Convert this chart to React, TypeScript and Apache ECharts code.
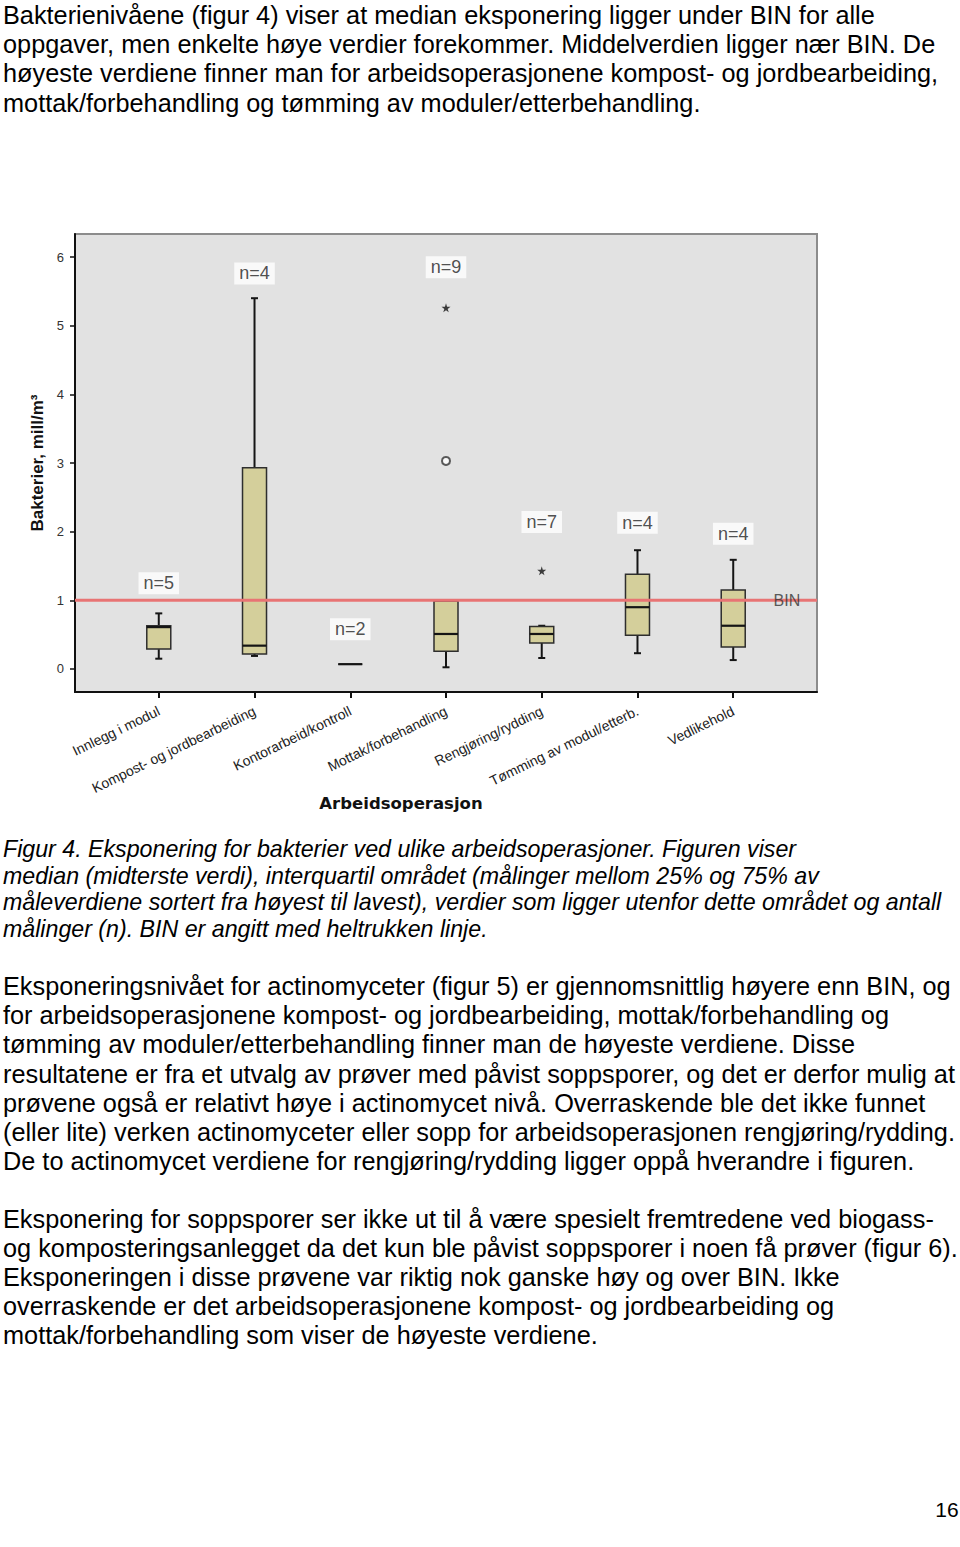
import React, { useEffect, useRef } from "react";
import * as echarts from "echarts";

// ---- chart data ----
const categories = [
  "Innlegg i modul",
  "Kompost- og jordbearbeiding",
  "Kontorarbeid/kontroll",
  "Mottak/forbehandling",
  "Rengjøring/rydding",
  "Tømming av modul/etterb.",
  "Vedlikehold",
];
const whiskerLow = [0.15, 0.19, 0.07, 0.025, 0.16, 0.23, 0.13];
const q1 = [0.29, 0.22, 0.07, 0.26, 0.38, 0.49, 0.32];
const median = [0.61, 0.34, 0.07, 0.51, 0.51, 0.9, 0.63];
const q3 = [0.63, 2.93, 0.07, 0.99, 0.62, 1.38, 1.15];
const whiskerHigh = [0.81, 5.4, 0.07, 0.99, 0.63, 1.73, 1.59];
const counts = [5, 4, 2, 9, 7, 4, 4];
const countLabelY = [1.25, 5.76, 0.58, 5.85, 2.14, 2.13, 1.97];
const outliers = [[3, 3.03]];
const extremes = [
  [3, 5.26],
  [4, 1.43],
];
const yTicks = [0, 1, 2, 3, 4, 5, 6];
const xTicks = [0, 1, 2, 3, 4, 5, 6];
const binValue = 1;

// ---- page text ----
const para1 = [
  "Bakterienivåene (figur 4) viser at median eksponering ligger under BIN for alle",
  "oppgaver, men enkelte høye verdier forekommer. Middelverdien ligger nær BIN. De",
  "høyeste verdiene finner man for arbeidsoperasjonene kompost- og jordbearbeiding,",
  "mottak/forbehandling og tømming av moduler/etterbehandling.",
];
const caption = [
  "Figur 4. Eksponering for bakterier ved ulike arbeidsoperasjoner. Figuren viser",
  "median (midterste verdi), interquartil området (målinger mellom 25% og 75% av",
  "måleverdiene sortert fra høyest til lavest), verdier som ligger utenfor dette området og antall",
  "målinger (n). BIN er angitt med heltrukken linje.",
];
const para2 = [
  "Eksponeringsnivået for actinomyceter (figur 5) er gjennomsnittlig høyere enn BIN, og",
  "for arbeidsoperasjonene kompost- og jordbearbeiding, mottak/forbehandling og",
  "tømming av moduler/etterbehandling finner man de høyeste verdiene. Disse",
  "resultatene er fra et utvalg av prøver med påvist soppsporer, og det er derfor mulig at",
  "prøvene også er relativt høye i actinomycet nivå. Overraskende ble det ikke funnet",
  "(eller lite) verken actinomyceter eller sopp for arbeidsoperasjonen rengjøring/rydding.",
  "De to actinomycet verdiene for rengjøring/rydding ligger oppå hverandre i figuren.",
];
const para3 = [
  "Eksponering for soppsporer ser ikke ut til å være spesielt fremtredene ved biogass-",
  "og komposteringsanlegget da det kun ble påvist soppsporer i noen få prøver (figur 6).",
  "Eksponeringen i disse prøvene var riktig nok ganske høy og over BIN. Ikke",
  "overraskende er det arbeidsoperasjonene kompost- og jordbearbeiding og",
  "mottak/forbehandling som viser de høyeste verdiene.",
];

const SANS = '"Liberation Sans", Arial, Helvetica, sans-serif';
const STAR =
  "path://M50,0 L61,35 L98,35 L68,57 L79,91 L50,70 L21,91 L32,57 L2,35 L39,35 Z";

function textBlock(lines: string[], y0: number, step: number, font: string) {
  return lines.map((t, k) => ({
    type: "text",
    x: 3,
    y: y0 + k * step,
    silent: true,
    style: { text: t, font, fill: "#000", textVerticalAlign: "middle" },
  }));
}

export default function App() {
  const ref = useRef<HTMLDivElement>(null);
  useEffect(() => {
    document.body.style.margin = "0";
    const chart = echarts.init(ref.current!, null, { renderer: "svg" });
    const bodyFont = `25.3px ${SANS}`;
    const capFont = `italic 23.2px ${SANS}`;
    const graphic: any[] = [
      ...textBlock(para1, 15, 29.2, bodyFont),
      ...textBlock(caption, 849, 26.7, capFont),
      ...textBlock(para2, 986, 29.17, bodyFont),
      ...textBlock(para3, 1219, 29.1, bodyFont),
      {
        type: "text",
        x: 947,
        y: 1509,
        silent: true,
        style: { text: "16", font: `21px ${SANS}`, fill: "#000", textAlign: "center", textVerticalAlign: "middle" },
      },
      {
        type: "text",
        x: 401,
        y: 803,
        silent: true,
        style: {
          text: "Arbeidsoperasjon",
          font: 'bold 16.5px "DejaVu Sans", Verdana, sans-serif',
          fill: "#111",
          textAlign: "center",
          textVerticalAlign: "middle",
        },
      },
    ];

    const boxData = categories.map((_, i) => [i, whiskerLow[i], q1[i], median[i], q3[i], whiskerHigh[i]]);

    chart.setOption({
      animation: false,
      grid: {
        left: 75,
        top: 234,
        width: 742,
        height: 458,
        show: true,
        backgroundColor: "#e2e2e2",
        borderColor: "#8c8c8c",
        borderWidth: 2,
      },
      xAxis: {
        type: "value",
        min: -0.875,
        max: 6.875,
        splitLine: { show: false },
        axisLine: { show: true, onZero: false, lineStyle: { color: "#111", width: 2 } },
        axisTick: { show: true, customValues: xTicks, length: 6, lineStyle: { color: "#111", width: 2 } },
        axisLabel: {
          customValues: xTicks,
          formatter: (v: number) => categories[Math.round(v)] ?? "",
          rotate: 26,
          margin: 18,
          fontSize: 14,
          fontFamily: SANS,
          color: "#222",
        },
      },
      yAxis: {
        type: "value",
        min: -0.335,
        max: 6.335,
        splitLine: { show: false },
        axisLine: { show: true, onZero: false, lineStyle: { color: "#111", width: 2 } },
        axisTick: { show: true, customValues: yTicks, length: 5, lineStyle: { color: "#111", width: 1.5 } },
        axisLabel: { customValues: yTicks, fontSize: 13, fontFamily: SANS, color: "#333", margin: 11 },
        name: "Bakterier, mill/m³",
        nameLocation: "middle",
        nameGap: 29,
        nameTextStyle: { fontSize: 17, fontWeight: "bold", fontFamily: SANS, color: "#111" },
      },
      graphic,
      series: [
        {
          type: "custom",
          data: boxData,
          encode: { x: 0, y: [1, 2, 3, 4, 5] },
          z: 2,
          renderItem: (params: any, api: any) => {
            const i = api.value(0);
            const pLow = api.coord([i, api.value(1)]);
            const pQ1 = api.coord([i, api.value(2)]);
            const pMed = api.coord([i, api.value(3)]);
            const pQ3 = api.coord([i, api.value(4)]);
            const pHigh = api.coord([i, api.value(5)]);
            const cx = pLow[0];
            const hw = 12;
            const cap = 3.5;
            const stroke = "#151515";
            const children: any[] = [];
            if (pHigh[1] < pQ3[1] - 0.5) {
              children.push({ type: "line", shape: { x1: cx, y1: pQ3[1], x2: cx, y2: pHigh[1] }, style: { stroke, lineWidth: 2 } });
              children.push({ type: "line", shape: { x1: cx - cap, y1: pHigh[1], x2: cx + cap, y2: pHigh[1] }, style: { stroke, lineWidth: 2 } });
            }
            if (pLow[1] > pQ1[1] + 0.5) {
              children.push({ type: "line", shape: { x1: cx, y1: pQ1[1], x2: cx, y2: pLow[1] }, style: { stroke, lineWidth: 2 } });
              children.push({ type: "line", shape: { x1: cx - cap, y1: pLow[1], x2: cx + cap, y2: pLow[1] }, style: { stroke, lineWidth: 2 } });
            }
            children.push({
              type: "rect",
              shape: { x: cx - hw, y: pQ3[1], width: hw * 2, height: pQ1[1] - pQ3[1] },
              style: { fill: "#d4cf9b", stroke: "#2e2e2e", lineWidth: 1.5 },
            });
            children.push({ type: "line", shape: { x1: cx - hw, y1: pMed[1], x2: cx + hw, y2: pMed[1] }, style: { stroke, lineWidth: 2.2 } });
            return { type: "group", children };
          },
        },
        {
          type: "line",
          data: [
            [-0.875, binValue],
            [6.875, binValue],
          ],
          symbol: "none",
          z: 5,
          silent: true,
          lineStyle: { color: "#e87474", width: 3 },
        },
        {
          type: "scatter",
          data: outliers,
          symbol: "emptyCircle",
          symbolSize: 8,
          z: 6,
          itemStyle: { color: "#333", borderColor: "#333", borderWidth: 1.5 },
        },
        {
          type: "scatter",
          data: extremes,
          symbol: STAR,
          symbolSize: 9,
          z: 6,
          itemStyle: { color: "#111" },
        },
        {
          type: "scatter",
          data: categories.map((_, i) => [i, countLabelY[i]]),
          symbolSize: 0,
          z: 8,
          label: {
            show: true,
            position: "inside",
            formatter: (p: any) => "n=" + counts[p.dataIndex],
            fontSize: 18,
            fontFamily: SANS,
            color: "#222",
            backgroundColor: "#ffffff",
            padding: [2, 5],
          },
        },
        {
          type: "scatter",
          data: [[6.56, binValue]],
          symbolSize: 0,
          z: 8,
          label: {
            show: true,
            position: "inside",
            formatter: "BIN",
            fontSize: 16,
            fontFamily: SANS,
            color: "#333",
          },
        },
      ],
    });
    return () => chart.dispose();
  }, []);
  return (
    <div
      ref={ref}
      style={{ position: "absolute", left: 0, top: 0, width: 960, height: 1547, background: "#fff" }}
    />
  );
}
